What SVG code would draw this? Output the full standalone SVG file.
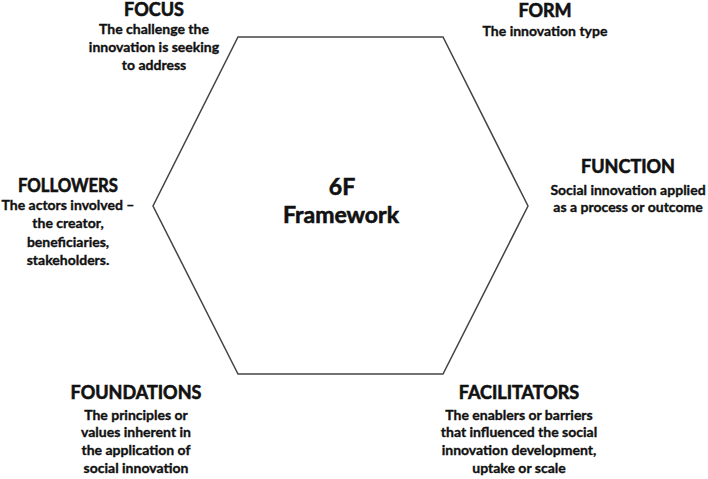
<svg xmlns="http://www.w3.org/2000/svg" width="708" height="479" viewBox="0 0 708 479">
<style>
text{font-family:Lato,"Liberation Sans",sans-serif;font-weight:bold;fill:#111;stroke:#111;stroke-width:0.35;text-anchor:middle}
.h{font-size:18px;stroke-width:0.6}
.d{font-size:14px}
.c{font-size:23px;stroke-width:0.6}
.hex{fill:#fff;stroke:#444;stroke-width:1.5}
</style>
<rect width="708" height="479" fill="#fff"/>
<g id="connectors"></g>
<g id="hexagon">
<polygon class="hex" points="238,37 443,37 528,206 443,374 238,374 153,206"/>
<text class="c" x="342" y="195">6F</text>
<text class="c" x="341" y="223">Framework</text>
</g>
<g id="focus">
<text class="h" x="154" y="16">FOCUS</text>
<text class="d" x="154" y="34">The challenge the</text>
<text class="d" x="154" y="52">innovation is seeking</text>
<text class="d" x="154" y="70">to address</text>
</g>
<g id="form">
<text class="h" x="545" y="17">FORM</text>
<text class="d" x="545" y="36">The innovation type</text>
</g>
<g id="function">
<text class="h" x="628" y="173">FUNCTION</text>
<text class="d" x="628" y="195">Social innovation applied</text>
<text class="d" x="628" y="212">as a process or outcome</text>
</g>
<g id="followers">
<text class="h" x="68" y="192" textLength="100" lengthAdjust="spacingAndGlyphs">FOLLOWERS</text>
<text class="d" x="68" y="210">The actors involved –</text>
<text class="d" x="68" y="228">the creator,</text>
<text class="d" x="68" y="247">beneficiaries,</text>
<text class="d" x="68" y="265">stakeholders.</text>
</g>
<g id="foundations">
<text class="h" x="136" y="399">FOUNDATIONS</text>
<text class="d" x="136" y="420">The principles or</text>
<text class="d" x="136" y="437">values inherent in</text>
<text class="d" x="136" y="455">the application of</text>
<text class="d" x="136" y="473">social innovation</text>
</g>
<g id="facilitators">
<text class="h" x="519" y="399">FACILITATORS</text>
<text class="d" x="519" y="420">The enablers or barriers</text>
<text class="d" x="519" y="437">that influenced the social</text>
<text class="d" x="519" y="455">innovation development,</text>
<text class="d" x="519" y="473">uptake or scale</text>
</g>
</svg>
